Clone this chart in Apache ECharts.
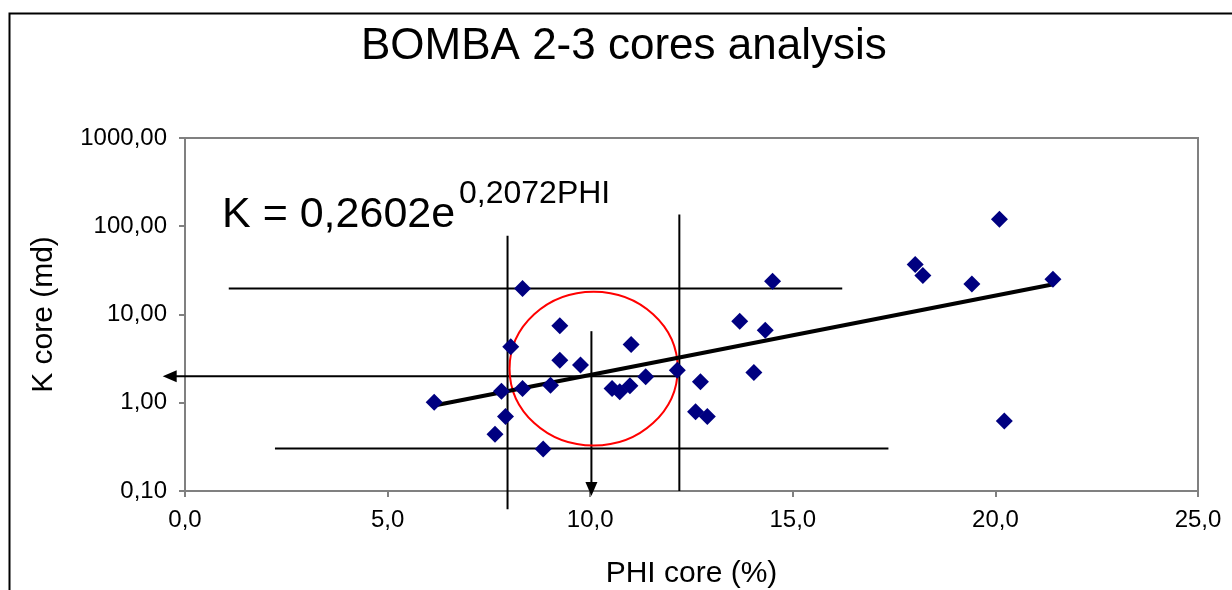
<!DOCTYPE html>
<html><head><meta charset="utf-8">
<script src="https://cdn.jsdelivr.net/npm/echarts@6/dist/echarts.min.js"></script>
<style>html,body{margin:0;padding:0;background:#fff}#c{width:1232px;height:590px}</style>
</head><body><div id="c"></div>
<script>
// Core samples: porosity (%) and permeability (md)
const phiCore = [8.33, 9.25, 8.04, 11.01, 9.25, 9.76, 12.15, 11.37, 12.72, 9.02, 8.33, 7.81, 10.54, 10.73, 10.98, 6.15, 12.60, 12.89, 7.91, 7.65, 8.84, 14.50, 13.69, 14.32, 14.04, 18.02, 18.21, 19.42, 21.42, 20.22, 20.10];
const kCore   = [19.7, 7.45, 4.31, 4.57, 3.04, 2.67, 2.34, 1.97, 1.73, 1.58, 1.45, 1.35, 1.45, 1.33, 1.56, 1.01, 0.79, 0.70, 0.70, 0.44, 0.30, 23.8, 8.4, 6.64, 2.20, 36.8, 27.6, 22.2, 25.1, 0.62, 120];
// Exponential trend K = 0.2602 e^(0.2072 PHI), drawn between its end points
const trendPhi = [6.15, 21.4];
const trendK   = [0.93, 21.9];
// Guide lines: [phi1, k1, phi2, k2, arrowAtEnd]
const guideLines = [
  [1.08, 19.7, 16.22, 19.7, 0],
  [2.22, 0.304, 17.36, 0.304, 0],
  [7.96, 77.8, 7.96, 0.062, 0],
  [12.2, 136, 12.2, 0.1, 0],
  [12.2, 2.0, -0.55, 2.0, 1],
  [10.03, 6.47, 10.03, 0.088, 1]
];
// Red ellipse bounds: [phiLeft, phiRight, kBottom, kTop]
const circleBox = [[8.01, 12.16, 0.327, 18.1]];
const xTickLabels = ['0,0', '5,0', '10,0', '15,0', '20,0', '25,0'];

const FONT = '"Liberation Sans", Arial, sans-serif';
const chart = echarts.init(document.getElementById('c'));
const fmtY = v => Number(v).toFixed(2).replace('.', ',');
const fmtX = v => Number(v).toFixed(1).replace('.', ',');

chart.setOption({
  backgroundColor: '#fff',
  animation: false,
  title: {
    text: 'BOMBA 2-3 cores analysis', left: 361, top: 25, padding: 0,
    textStyle: { fontFamily: FONT, fontSize: 44, fontWeight: 'normal', color: '#000' }
  },
  grid: {
    left: 185, right: 34, top: 138, bottom: 99,
    show: true, borderColor: '#808080', borderWidth: 2, backgroundColor: 'transparent',
    containLabel: false, outerBoundsMode: 'none'
  },
  xAxis: {
    type: 'value', min: 0, max: 25, interval: 5,
    name: 'PHI core (%)', nameLocation: 'middle', nameGap: 68,
    nameTextStyle: { fontFamily: FONT, fontSize: 30, color: '#000' },
    axisLine: { show: true, lineStyle: { color: '#808080', width: 2 } },
    axisTick: { show: true, length: 6, lineStyle: { color: '#808080', width: 2 } },
    axisLabel: { fontFamily: FONT, fontSize: 24, color: '#000', margin: 17,
      formatter: (v) => xTickLabels[Math.round(v / 5)] ?? fmtX(v) },
    splitLine: { show: false }
  },
  yAxis: {
    type: 'log', logBase: 10, min: 0.1, max: 1000,
    name: 'K core (md)', nameLocation: 'middle', nameGap: 126, nameRotate: 90,
    nameTextStyle: { fontFamily: FONT, fontSize: 30, color: '#000' },
    axisLine: { show: true, lineStyle: { color: '#808080', width: 2 } },
    axisTick: { show: true, length: 6, lineStyle: { color: '#808080', width: 2 } },
    axisLabel: { fontFamily: FONT, fontSize: 24, color: '#000', margin: 18, formatter: fmtY },
    splitLine: { show: false },
    minorTick: { show: false }
  },
  graphic: [
    { type: 'rect', left: 7, top: 11, z: 100, silent: true,
      shape: { width: 1260, height: 620 }, style: { fill: 'none', stroke: '#000', lineWidth: 2 } },
    { type: 'text', x: 222, y: 215, z: 100,
      style: { text: 'K = 0,2602e', font: '43px ' + FONT, fill: '#000', verticalAlign: 'middle', align: 'left' } },
    { type: 'text', x: 459, y: 194, z: 100,
      style: { text: '0,2072PHI', font: '32px ' + FONT, fill: '#000', verticalAlign: 'middle', align: 'left' } }
  ],
  series: [
    {
      type: 'custom', name: 'guides', clip: false, z: 3,
      data: guideLines,
      encode: { x: [0, 2], y: [1, 3] },
      renderItem: function (params, api) {
        const p1 = api.coord([api.value(0), api.value(1)]);
        const p2 = api.coord([api.value(2), api.value(3)]);
        const children = [];
        let ex = p2[0], ey = p2[1];
        if (api.value(4)) {
          const dx = p2[0] - p1[0], dy = p2[1] - p1[1];
          const len = Math.hypot(dx, dy), ux = dx / len, uy = dy / len;
          const L = 14, W = 6;
          const bx = p2[0] - ux * L, by = p2[1] - uy * L;
          ex = bx + ux * 2; ey = by + uy * 2;
          children.push({ type: 'polygon', shape: { points: [[p2[0], p2[1]], [bx - uy * W, by + ux * W], [bx + uy * W, by - ux * W]] },
            style: { fill: '#000' } });
        }
        children.unshift({ type: 'line', shape: { x1: p1[0], y1: p1[1], x2: ex, y2: ey },
          style: { stroke: '#000', lineWidth: 2 } });
        return { type: 'group', children: children };
      }
    },
    {
      type: 'custom', name: 'circle', clip: false, z: 3,
      data: circleBox,
      encode: { x: [0, 1], y: [2, 3] },
      renderItem: function (params, api) {
        const a = api.coord([api.value(0), api.value(2)]);
        const b = api.coord([api.value(1), api.value(3)]);
        return { type: 'ellipse',
          shape: { cx: (a[0] + b[0]) / 2, cy: (a[1] + b[1]) / 2, rx: Math.abs(b[0] - a[0]) / 2, ry: Math.abs(b[1] - a[1]) / 2 },
          style: { fill: 'none', stroke: '#ff0000', lineWidth: 2 } };
      }
    },
    {
      type: 'line', name: 'trend', z: 4, symbol: 'none', silent: true,
      data: trendPhi.map((p, i) => [p, trendK[i]]),
      lineStyle: { color: '#000', width: 4 }
    },
    {
      type: 'scatter', name: 'cores', z: 5,
      symbol: 'diamond', symbolSize: 17,
      itemStyle: { color: '#000080', opacity: 1 },
      data: phiCore.map((p, i) => [p, kCore[i]])
    }
  ]
});
</script>
</body></html>
